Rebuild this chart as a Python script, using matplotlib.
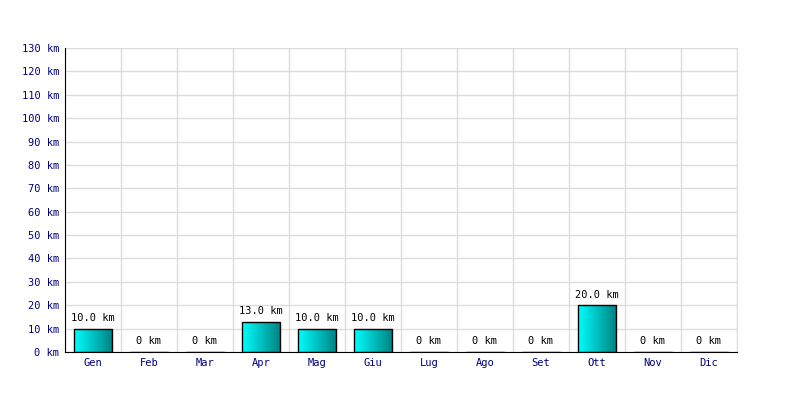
import numpy as np
import matplotlib
matplotlib.use('Agg')
import matplotlib.pyplot as plt
from matplotlib.colors import LinearSegmentedColormap

# monthly distances (km)
months = ['Gen', 'Feb', 'Mar', 'Apr', 'Mag', 'Giu', 'Lug', 'Ago', 'Set', 'Ott', 'Nov', 'Dic']
distances = [10.0, 0, 0, 13.0, 10.0, 10.0, 0, 0, 0, 20.0, 0, 0]
y_ticks = list(range(0, 131, 10))

plt.rcParams['font.family'] = 'DejaVu Sans Mono'

fig = plt.figure(figsize=(8, 4), dpi=100)
ax = fig.add_axes([0.08125, 0.12, 0.84, 0.76])

x = np.arange(len(months))
bar_w = 0.68
bars = ax.bar(x, distances, width=bar_w, color='none', edgecolor='black', linewidth=1, zorder=3)

# horizontal cyan -> teal gradient inside each bar
grad_cmap = LinearSegmentedColormap.from_list('cy', ['#00ffff', '#008080'])
grad = np.linspace(0, 1, 256).reshape(1, -1)
for b in bars:
    h = b.get_height()
    if h <= 0:
        continue
    x0 = b.get_x()
    im = ax.imshow(grad, cmap=grad_cmap, aspect='auto', extent=[x0, x0 + bar_w, 0, h],
                   zorder=2, interpolation='bicubic')
    im.set_clip_path(b)

for xi, v in zip(x, distances):
    label = f'{v:.1f} km' if v > 0 else '0 km'
    ax.annotate(label, (xi, v), xytext=(0, 4), textcoords='offset points',
                ha='center', va='bottom', fontsize=7.5, color='black')

ax.set_xlim(-0.5, len(months) - 0.5)
ax.set_ylim(0, 130)
ax.set_yticks(y_ticks)
ax.set_yticklabels([f'{t} km' for t in y_ticks])
ax.set_xticks(x)
ax.set_xticklabels(months)
ax.set_xticks(np.arange(-0.5, len(months), 1), minor=True)
ax.tick_params(axis='both', which='both', length=0, labelsize=7.5, colors='#000080')
ax.tick_params(axis='y', pad=4)
ax.tick_params(axis='x', pad=4)

ax.grid(True, which='minor', axis='x', color='#dcdcdc', linewidth=1, zorder=0)
ax.grid(True, which='major', axis='y', color='#dcdcdc', linewidth=1, zorder=0)
ax.set_axisbelow(True)

for side in ['top', 'right']:
    ax.spines[side].set_color('#dcdcdc')
for side in ['left', 'bottom']:
    ax.spines[side].set_color('black')
    ax.spines[side].set_zorder(4)

fig.savefig('out.png', dpi=100)
